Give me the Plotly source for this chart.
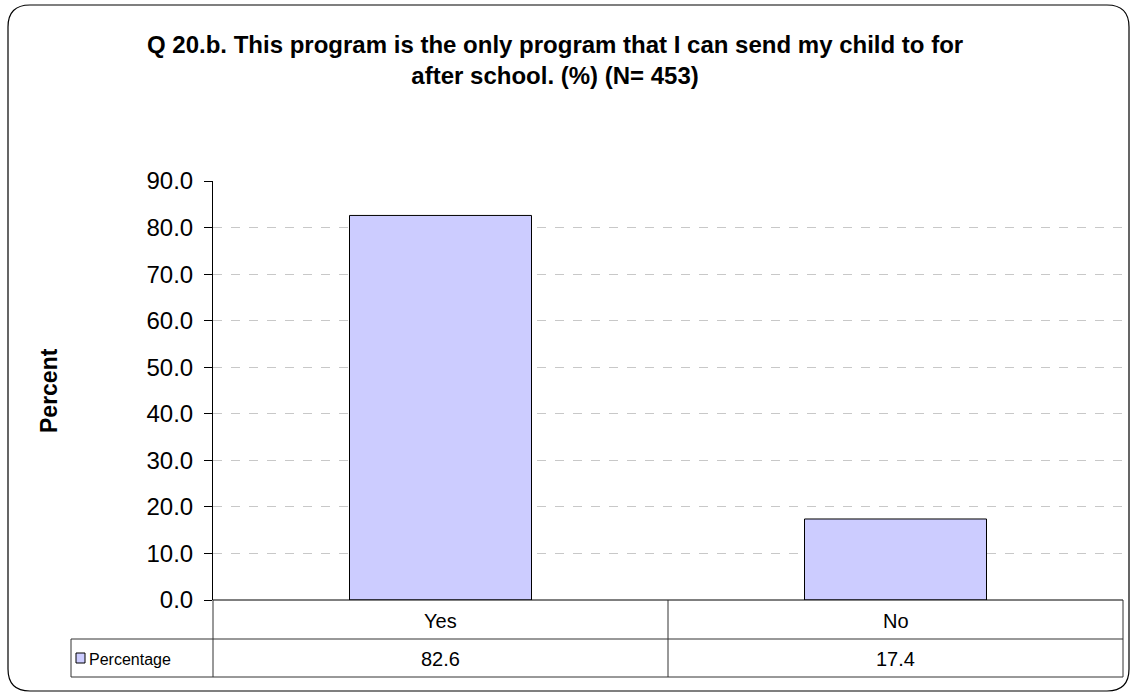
import plotly.graph_objects as go

categories = ["Yes", "No"]
values = [82.6, 17.4]
series_name = "Percentage"
title_text = "Q 20.b. This program is the only program that I can send my child to for<br>after school. (%) (N= 453)"
y_title = "Percent"
tick_vals = [0, 10, 20, 30, 40, 50, 60, 70, 80, 90]

W, H = 1133, 696
FONT = "Liberation Sans, Arial, sans-serif"
BAR_COLOR = "#CCCCFF"

def px(x):
    return x / W

def py(y):
    return 1 - y / H

x0, x1 = 213, 1123
y_top, y_bot = 181, 600
row1, row2 = 639, 677
leg_x = 71

fig = go.Figure()
fig.add_trace(go.Bar(
    x=categories, y=values, name=series_name,
    marker=dict(color=BAR_COLOR, line=dict(color="black", width=1)),
    width=0.4, showlegend=False,
))

shapes = []
def line(xa, ya, xb, yb, color="#333333", width=1):
    shapes.append(dict(type="line", xref="paper", yref="paper",
                       x0=px(xa), y0=py(ya), x1=px(xb), y1=py(yb),
                       line=dict(color=color, width=width)))

# table lines
line(x0, y_bot, x1, y_bot, "black")
line(leg_x, row1, x1, row1)
line(leg_x, row2, x1, row2)
line(leg_x, row1, leg_x, row2)
line(x0, y_bot, x0, row2)
mid = (x0 + x1) / 2
line(mid, y_bot, mid, row2)
line(x1, y_bot, x1, row2)

# legend key
shapes.append(dict(type="rect", xref="paper", yref="paper",
                   x0=px(76), y0=py(663), x1=px(85), y1=py(653),
                   fillcolor=BAR_COLOR, line=dict(color="black", width=1)))

# rounded outer border
r = 22
L, T, R, B = 8, 5, 1129, 691
def P(x, y):
    return f"{px(x):.5f},{py(y):.5f}"
path = (f"M {P(L + r, T)} L {P(R - r, T)} Q {P(R, T)} {P(R, T + r)} "
        f"L {P(R, B - r)} Q {P(R, B)} {P(R - r, B)} "
        f"L {P(L + r, B)} Q {P(L, B)} {P(L, B - r)} "
        f"L {P(L, T + r)} Q {P(L, T)} {P(L + r, T)} Z")
shapes.append(dict(type="path", xref="paper", yref="paper", path=path,
                   line=dict(color="black", width=1.2)))

annotations = []
col_w = (x1 - x0) / len(categories)
for i, (c, v) in enumerate(zip(categories, values)):
    cx = x0 + col_w * (i + 0.5)
    annotations.append(dict(x=px(cx), y=py((y_bot + row1) / 2 + 1), xref="paper", yref="paper",
                            xanchor="center", yanchor="middle",
                            text=c, showarrow=False, font=dict(size=20, color="black", family=FONT)))
    annotations.append(dict(x=px(cx), y=py((row1 + row2) / 2 + 1), xref="paper", yref="paper",
                            xanchor="center", yanchor="middle",
                            text=f"{v:.1f}", showarrow=False, font=dict(size=20, color="black", family=FONT)))
annotations.append(dict(x=px(87), y=py((row1 + row2) / 2 + 1), xref="paper", yref="paper",
                        text=series_name, showarrow=False, xanchor="left", yanchor="middle",
                        font=dict(size=16, color="black", family=FONT)))
annotations.append(dict(x=px(555), y=py(60), xref="paper", yref="paper",
                        xanchor="center", yanchor="middle",
                        text=f"<b>{title_text}</b>", showarrow=False,
                        font=dict(size=24, color="black", family=FONT), align="center"))
annotations.append(dict(x=px(49), y=py(391), xref="paper", yref="paper",
                        xanchor="center", yanchor="middle",
                        text=f"<b>{y_title}</b>", showarrow=False, textangle=-90,
                        font=dict(size=23, color="black", family=FONT)))

fig.update_layout(
    width=W, height=H,
    margin=dict(l=0, r=0, t=0, b=0, autoexpand=False),
    paper_bgcolor="white", plot_bgcolor="white",
    bargap=0.6,
    xaxis=dict(domain=[px(x0), px(x1)], showticklabels=False, showgrid=False,
               zeroline=False, showline=False, ticks="", automargin=False),
    yaxis=dict(domain=[py(y_bot), py(y_top)], range=[0, 90], tickvals=tick_vals,
               tickformat=".1f", showline=True, linecolor="black", linewidth=1,
               ticks="outside", ticklen=8, tickcolor="black", automargin=False,
               ticklabelstandoff=6,
               tickfont=dict(size=24, color="black", family=FONT),
               showgrid=True, gridcolor="#C8C8C8", griddash="dash", gridwidth=1,
               zeroline=False),
    shapes=shapes,
    annotations=annotations,
    font=dict(family=FONT),
)

fig.write_html("out.html", config={"displayModeBar": False},
               post_script="document.body.style.margin='0';document.body.style.overflow='hidden';")
